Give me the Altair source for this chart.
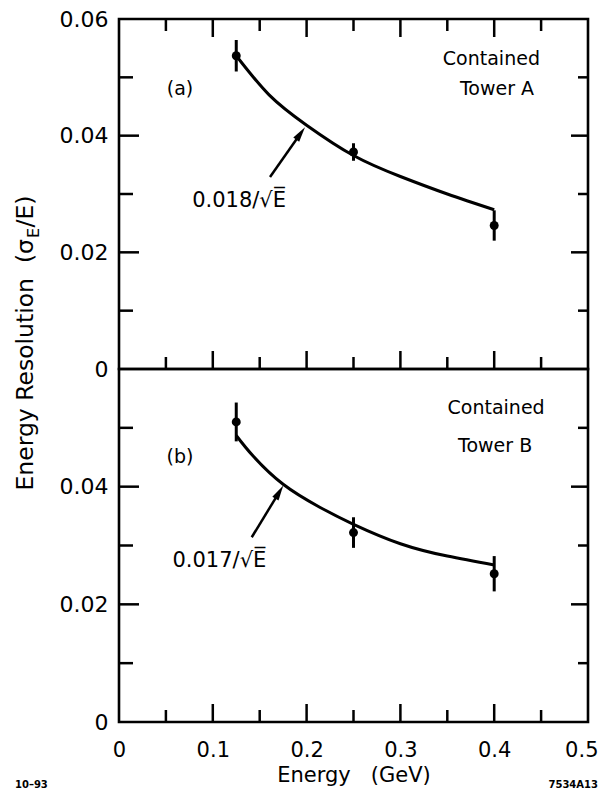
import altair as alt
import pandas as pd

FONT = "DejaVu Sans"

# ---------------- data ----------------
energy = [0.125, 0.25, 0.40]                 # GeV
res_a = [0.0537, 0.0372, 0.0246]             # Tower A, sigma_E/E
err_a = [0.0027, 0.0015, 0.0026]
res_b = [0.0510, 0.0322, 0.0252]             # Tower B
err_b = [0.0033, 0.0026, 0.0030]

fit_a_energy = [0.125, 0.16, 0.20, 0.25, 0.30, 0.35, 0.40]
fit_a_res = [0.0537, 0.0470, 0.0418, 0.0366, 0.0330, 0.0300, 0.0273]
fit_b_energy = [0.125, 0.143, 0.175, 0.214, 0.25, 0.30, 0.35, 0.40]
fit_b_res = [0.0487, 0.0452, 0.0404, 0.0365, 0.0336, 0.0303, 0.0282, 0.0267]

x_labels = [0, 0.1, 0.2, 0.3, 0.4, 0.5]
y_labels_a = [0, 0.02, 0.04, 0.06]
y_labels_b = [0, 0.02, 0.04]
x_major = [0.1, 0.2, 0.3, 0.4]
x_minor = [0.05, 0.15, 0.25, 0.35, 0.45]
y_major = [0.02, 0.04]
y_minor = [0.01, 0.03, 0.05]

# annotation anchors (data units)
texts_a = [
    {"x": 0.397, "y": 0.0531, "t": "Contained"},
    {"x": 0.403, "y": 0.0480, "t": "Tower A"},
    {"x": 0.065, "y": 0.0480, "t": "(a)"},
]
texts_b = [
    {"x": 0.402, "y": 0.0533, "t": "Contained"},
    {"x": 0.401, "y": 0.0469, "t": "Tower B"},
    {"x": 0.065, "y": 0.0450, "t": "(b)"},
]
fit_label_a = [{"x": 0.128, "y": 0.0288, "t": "0.018/\u221aE\u0305"}]
fit_label_b = [{"x": 0.107, "y": 0.0274, "t": "0.017/\u221aE\u0305"}]
arrow_a = [{"x": 0.161, "y": 0.0329, "x2": 0.1928, "y2": 0.0402}]
arrow_b = [{"x": 0.1415, "y": 0.0314, "x2": 0.1702, "y2": 0.0389}]
head_a_angle = 35
head_b_angle = 31

W, H_A, H_B = 469, 350, 353
LBL = "datum.value == 0 ? '0' : format(datum.value, '{}')"


def xaxis(show):
    if not show:
        return None
    return alt.Axis(values=x_labels, labelExpr=LBL.format(".1f"), ticks=False,
                    domain=False, grid=False, labelFont=FONT, labelFontSize=21,
                    labelColor="black", labelPadding=17, labelFlush=False,
                    labelAlign={"condition": {"test": "datum.value >= 0.5", "value": "right"},
                                "value": "center"},
                    labelOffset={"condition": {"test": "datum.value >= 0.5", "value": 10},
                                 "value": 0},
                    title="Energy\u00a0\u00a0\u00a0(GeV)", titleFont=FONT,
                    titleFontSize=21, titleFontWeight="normal", titleColor="black",
                    titlePadding=4)


def yaxis(vals):
    return alt.Axis(values=vals, labelExpr=LBL.format(".2f"), ticks=False,
                    domain=False, grid=False, labelFont=FONT, labelFontSize=22,
                    labelColor="black", labelPadding=11, title=None)


def panel(res, err, fe, fr, texts, flabel, arrow, hangle, H, yvals,
          show_x, top_ticks, extra):
    xa = xaxis(show_x)
    ya = yaxis(yvals)

    def X(f):
        return alt.X(f"{f}:Q", scale=alt.Scale(domain=[0, 0.5], nice=False, zero=False), axis=xa)

    def Y(f):
        return alt.Y(f"{f}:Q", scale=alt.Scale(domain=[0, 0.06], nice=False, zero=False), axis=ya)

    pts = pd.DataFrame({"E": energy, "R": res,
                        "lo": [r - e for r, e in zip(res, err)],
                        "hi": [r + e for r, e in zip(res, err)]})
    fit = pd.DataFrame({"E": fe, "R": fr})
    layers = []
    layers.append(alt.Chart(one).mark_rect(filled=False, stroke="black", strokeWidth=2.6).encode(
        x=alt.value(0), x2=alt.value(W), y=alt.value(0), y2=alt.value(H)))
    layers.append(alt.Chart(fit).mark_line(color="black", strokeWidth=3,
                                           interpolate="natural").encode(x=X("E"), y=Y("R")))
    layers.append(alt.Chart(pts).mark_rule(color="black", strokeWidth=3).encode(
        x=X("E"), y=Y("lo"), y2="hi:Q"))
    layers.append(alt.Chart(pts).mark_point(filled=True, size=80, color="black",
                                            opacity=1).encode(x=X("E"), y=Y("R")))
    # ticks (inward)
    def xt(vals, ln, side):
        enc = dict(y=alt.value(H), y2=alt.value(H - ln)) if side == "bottom" else \
            dict(y=alt.value(0), y2=alt.value(ln))
        return alt.Chart(pd.DataFrame({"E": vals})).mark_rule(
            color="black", strokeWidth=2.5).encode(x=X("E"), **enc)

    def yt(vals, ln, side):
        enc = dict(x=alt.value(0), x2=alt.value(ln)) if side == "left" else \
            dict(x=alt.value(W), x2=alt.value(W - ln))
        return alt.Chart(pd.DataFrame({"R": vals})).mark_rule(
            color="black", strokeWidth=2.5).encode(y=Y("R"), **enc)

    layers += [xt(x_major, 18, "bottom"), xt(x_minor, 12, "bottom")]
    if top_ticks:
        layers += [xt(x_major, 18, "top"), xt(x_minor, 12, "top")]
    layers += [yt(y_major, 20, "left"), yt(y_minor, 14, "left"),
               yt(y_major, 17, "right"), yt(y_minor, 10, "right")]
    # annotations
    layers.append(alt.Chart(pd.DataFrame(texts)).mark_text(
        font=FONT, fontSize=19, color="black").encode(x=X("x"), y=Y("y"), text="t:N"))
    layers.append(alt.Chart(pd.DataFrame(flabel)).mark_text(
        font=FONT, fontSize=21, color="black").encode(x=X("x"), y=Y("y"), text="t:N"))
    ar = pd.DataFrame(arrow)
    layers.append(alt.Chart(ar).mark_rule(color="black", strokeWidth=2.5).encode(
        x=X("x"), y=Y("y"), x2="x2:Q", y2="y2:Q"))
    layers.append(alt.Chart(ar).mark_point(
        shape="M0,-1L0.4,0.7L-0.4,0.7Z", filled=True, size=324, angle=hangle,
        color="black", opacity=1).encode(x=X("x2"), y=Y("y2")))
    layers += extra
    return alt.layer(*layers).properties(width=W, height=H)


one = pd.DataFrame({"d": [0]})


def label(text, x, y, size, angle=0, align="center", baseline="middle", weight="normal"):
    kw = dict(text=text, font=FONT, fontSize=size, color="black", align=align,
              baseline=baseline, fontWeight=weight)
    if angle:
        kw["angle"] = angle
    return alt.Chart(one).mark_text(**kw).encode(x=alt.value(x), y=alt.value(y))


ytitle = [
    label("Energy Resolution\u00a0\u00a0(\u03c3", -86, 220, 23.5, 270, "right", "alphabetic"),
    label("E", -80, 219, 16, 270, "left", "alphabetic"),
    label("/E)", -86, 208.5, 23.5, 270, "left", "alphabetic"),
]
corner = [
    label("10\u201393", -104, 416, 10, 0, "left", "middle", "bold"),
    label("7534A13", 479, 416, 10, 0, "right", "middle", "bold"),
]

pa = panel(res_a, err_a, fit_a_energy, fit_a_res, texts_a, fit_label_a, arrow_a,
           head_a_angle, H_A, y_labels_a, False, True, ytitle)
pb = panel(res_b, err_b, fit_b_energy, fit_b_res, texts_b, fit_label_b, arrow_b,
           head_b_angle, H_B, y_labels_b, True, False, corner)

chart = alt.vconcat(pa, pb, spacing=0, bounds="flush").properties(
    padding={"left": 6, "top": 0, "right": 0, "bottom": 0},
    background="white",
).configure_view(strokeWidth=0)

chart.save("out.html", embed_options={"renderer": "svg", "actions": False})
